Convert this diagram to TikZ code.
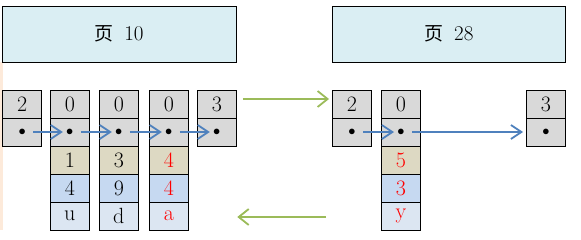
\documentclass[tikz,border=0pt]{standalone}
\usepackage{fontspec}
\newfontfamily\cjk{Noto Sans CJK SC}
\usetikzlibrary{arrows.meta}
\definecolor{cgray}{HTML}{D9D9D9}
\definecolor{ctan}{HTML}{DDD9C3}
\definecolor{cblue}{HTML}{C6D9F1}
\definecolor{clight}{HTML}{DCE6F2}
\definecolor{chead}{HTML}{DAEEF3}
\definecolor{cgreen}{HTML}{9BBB59}
\definecolor{carrow}{HTML}{4F81BD}
\definecolor{cpeach}{HTML}{FDEADA}
\definecolor{cred}{HTML}{FF0000}
\tikzset{
  cell/.style={draw=black, line width=0.9pt, minimum width=39pt, minimum height=28pt, inner sep=0pt, font=\fontsize{22}{24}\selectfont},
  gcell/.style={cell, fill=cgray},
  tcell/.style={cell, fill=ctan},
  bcell/.style={cell, fill=cblue},
  lcell/.style={cell, fill=clight},
  dotcell/.style={gcell, font=\fontsize{14}{16}\selectfont},
  header/.style={draw=black, line width=0.9pt, fill=chead, minimum width=234pt, minimum height=56pt, inner sep=0pt, font=\fontsize{21}{24}\selectfont},
  bluearrow/.style={draw=carrow, line width=1.8pt, -{Straight Barb[length=10.5pt,width=14pt,line width=1.8pt]}},
  greenarrow/.style={draw=cgreen, line width=1.8pt, -{Straight Barb[length=10pt,width=16pt,line width=1.8pt]}},
}
\begin{document}
\begin{tikzpicture}[x=1pt,y=-1pt]
\useasboundingbox (0,0) rectangle (581,239);
\fill[cpeach] (0,62) rectangle (2.6,230);
% headers
\node[header] (h10) at (119.2,34) {{\cjk\fontsize{19}{22}\selectfont 页}\hspace{0.5em}10};
\node[header, minimum width=233pt] (h28) at (449,34) {{\cjk\fontsize{19}{22}\selectfont 页}\hspace{0.5em}28};
% page 10 columns
\node[gcell] (a1) at (22.2,104) {2};
\node[dotcell] (a2) at (22.2,132) {$\bullet$};
\node[gcell] (b1) at (69.8,104) {0};
\node[dotcell] (b2) at (69.8,132) {$\bullet$};
\node[tcell] (b3) at (69.8,160) {1};
\node[bcell] (b4) at (69.8,188) {4};
\node[lcell] (b5) at (69.8,216) {u};
\node[gcell] (c1) at (118.8,104) {0};
\node[dotcell] (c2) at (118.8,132) {$\bullet$};
\node[tcell] (c3) at (118.8,160) {3};
\node[bcell] (c4) at (118.8,188) {9};
\node[lcell] (c5) at (118.8,216) {d};
\node[gcell] (d1) at (168.8,104) {0};
\node[dotcell] (d2) at (168.8,132) {$\bullet$};
\node[tcell, text=cred] (d3) at (168.8,160) {4};
\node[bcell, text=cred] (d4) at (168.8,188) {4};
\node[lcell, text=cred] (d5) at (168.8,216) {a};
\node[gcell] (e1) at (216.8,104) {3};
\node[dotcell] (e2) at (216.8,132) {$\bullet$};
% page 28 columns
\node[gcell] (f1) at (352,104) {2};
\node[dotcell] (f2) at (352,132) {$\bullet$};
\node[gcell] (g1) at (401,104) {0};
\node[dotcell] (g2) at (401,132) {$\bullet$};
\node[tcell, text=cred] (g3) at (401,160) {5};
\node[bcell, text=cred] (g4) at (401,188) {3};
\node[lcell, text=cred] (g5) at (401,216) {y};
\node[gcell] (k1) at (546,104) {3};
\node[dotcell] (k2) at (546,132) {$\bullet$};
% blue arrows
\draw[bluearrow] ([xshift=11pt]a2.center) -- ([xshift=-7pt]b2.center);
\draw[bluearrow] ([xshift=11pt]b2.center) -- ([xshift=-7pt]c2.center);
\draw[bluearrow] ([xshift=11pt]c2.center) -- ([xshift=-7pt]d2.center);
\draw[bluearrow] ([xshift=11pt]d2.center) -- ([xshift=-7pt]e2.center);
\draw[bluearrow] ([xshift=11pt]f2.center) -- ([xshift=-7pt]g2.center);
\draw[bluearrow] ([xshift=11pt]g2.center) -- ([xshift=-3pt]k2.west);
% green arrows
\draw[greenarrow] ([xshift=6pt,yshift=5pt]e1.east) -- ([xshift=-3pt,yshift=5pt]f1.west);
\coordinate (gs) at (326,217);
\coordinate (ge) at (237.3,217);
\draw[greenarrow] (gs) -- (ge);
\end{tikzpicture}
\end{document}
